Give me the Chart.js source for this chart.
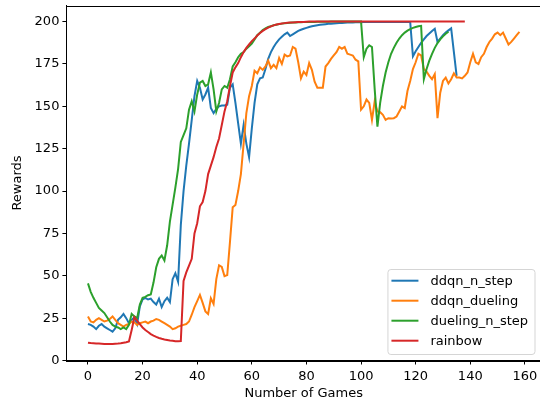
<!DOCTYPE html>
<html>
<head>
<meta charset="utf-8">
<script src="https://cdn.jsdelivr.net/npm/chart.js@4.4.1/dist/chart.umd.min.js"></script>
<style>
  html, body { margin: 0; padding: 0; background: #fff; overflow: hidden; }
  #wrap { width: 540px; height: 402px; overflow: hidden; }
  canvas { display: block; }
</style>
</head>
<body>
<div id="wrap"><canvas id="chart" width="560" height="402"></canvas></div>
<script>
// DATA (one value per game)
const seriesNames = ['ddqn_n_step', 'ddqn_dueling', 'dueling_n_step', 'rainbow'];
const colors = ['#1f77b4', '#ff7f0e', '#2ca02c', '#d62728'];

const ddqnNStep = [
  21.5, 21, 20, 18.5, 20.5, 21.5, 20, 19, 18, 17,
  19, 24, 25.5, 27.5, 25, 22, 24, 25.5, 21.5, 32,
  36, 37, 36, 36.5, 34.5, 33, 36.5, 31.5, 35, 37,
  34.5, 48, 51.5, 46.5, 80, 100, 115, 128, 142, 156,
  165, 161, 154, 157, 161, 149, 146, 148.5, 150, 150.5,
  150.5, 151, 161, 163, 152, 140, 128, 139, 128, 120,
  137, 152, 163, 166.5, 167, 172, 178, 182, 185, 187.5,
  189.5, 191, 192.5, 193.5, 191.5, 192.5, 193.5, 194.5, 195.2, 195.8,
  196.3, 196.8, 197.2, 197.6, 197.9, 198.1, 198.3, 198.5, 198.7, 198.8,
  198.9, 199, 199.1, 199.2, 199.3, 199.4, 199.5, 199.5, 199.6, 199.6,
  199.6, 199.7, 199.7, 199.7, 199.7, 199.8, 199.8, 199.8, 199.8, 199.8,
  199.8, 199.8, 199.8, 199.8, 199.8, 199.8, 199.8, 199.8, 199.8, 179.5,
  182.5, 185, 187.5, 189.5, 191.5, 193, 194.5, 195.8, 188, 190,
  192, 193.5, 194.8, 196, 182, 168
];

const ddqnDueling = [
  26, 23, 22.5, 24, 25, 24, 23, 23.5, 24.5, 26,
  24, 22, 21, 20, 21, 21.5, 23, 22.5, 21, 22,
  22.5, 23, 22, 23, 23.5, 24.5, 24, 23, 22, 21,
  20, 18.5, 19, 20, 20.5, 21, 21.5, 23, 27, 31.5,
  35, 38.7, 34, 29, 27.5, 36.7, 33.4, 48, 56.2, 55.2,
  49.8, 50.4, 70, 90.4, 91.8, 100, 110, 128, 146, 156,
  162, 171, 169.5, 173, 171.5, 173.5, 177, 172.5, 174.5, 172.5,
  178.5, 175, 180.5, 179.5, 180, 185, 184, 176, 166.5, 170.5,
  168.5, 175.5, 171.5, 164.5, 161, 161, 161, 173.5, 175.5, 178,
  180, 182, 185, 184, 185, 181, 180.5, 180, 177.5, 176.5,
  148, 150, 154, 152, 142, 153, 147, 146.5, 145, 142,
  143, 142.8, 143, 144, 147, 150, 149, 159, 165, 172,
  176, 181, 180, 172, 170.5, 168, 166, 169, 143, 158,
  165, 167, 163.5, 166, 169.5, 167, 167, 166.5, 168, 170,
  176, 181, 176, 175, 179, 181, 185, 188, 190, 192.5,
  193.5, 192, 193.5, 190, 186.5, 188, 190, 192, 194
];

const duelingNStep = [
  45.5, 40.5, 37, 34, 31, 29.5, 28, 25.5, 23, 21,
  20, 19.5, 18.5, 19.5, 18.5, 21, 27.5, 26, 25, 33,
  37, 37.5, 38.5, 39, 46, 55, 60, 62, 59, 68,
  82, 92, 102, 113, 129, 133, 137, 148, 153, 147,
  157, 164, 165, 162, 163, 170, 160, 147, 152, 160,
  162, 161, 166, 173.5, 176, 179, 181, 182, 184, 185.5,
  187, 189.5, 192, 193.5, 195, 196, 196.8, 197.3, 197.8, 198.2,
  198.5, 198.8, 199, 199.2, 199.3, 199.4, 199.5, 199.6, 199.6, 199.7,
  199.7, 199.8, 199.8, 199.8, 199.9, 199.9, 199.9, 199.9, 199.9, 200,
  200, 200, 200, 200, 200, 200, 200, 200, 200, 200,
  200, 179, 184, 186, 185, 160, 138, 152, 162, 170,
  176, 181, 184.5, 187.5, 190, 192, 193.5, 194.7, 195.6, 196.3,
  196.8, 197.2, 197.5, 166, 172, 177, 181, 184.5, 187.3, 189.5,
  191.3, 192.8, 194
];

const rainbow = [
  10.5, 10.3, 10.2, 10.1, 10, 9.9, 9.8, 9.8, 9.8, 9.8,
  9.9, 10, 10.2, 10.5, 10.8, 11.2, 18, 25.5, 23.5, 21.5,
  19.5, 18, 16.8, 15.6, 14.7, 13.9, 13.3, 12.8, 12.4, 12.1,
  11.8, 11.6, 11.4, 11.3, 11.5, 47, 52, 56, 60, 75,
  81, 91, 93.5, 100, 110, 115, 120, 126, 131, 139,
  147, 153, 162, 170, 173, 175.5, 179, 182, 184.5, 186.5,
  188.5, 190, 191.8, 193.3, 194.5, 195.5, 196.5, 197.2, 197.8, 198.3,
  198.6, 198.9, 199.1, 199.3, 199.4, 199.5, 199.6, 199.7, 199.8, 199.8,
  199.9, 200, 200, 200, 200, 200, 200, 200, 200, 200,
  200, 200, 200, 200, 200, 200, 200, 200, 200, 200,
  200, 200, 200, 200, 200, 200, 200, 200, 200, 200,
  200, 200, 200, 200, 200, 200, 200, 200, 200, 200,
  200, 200, 200, 200, 200, 200, 200, 200, 200, 200,
  200, 200, 200, 200, 200, 200, 200, 200, 200
];

const xTicks = [0, 20, 40, 60, 80, 100, 120, 140, 160];
const yTicks = [0, 25, 50, 75, 100, 125, 150, 175, 200];
const xRange = [-7.9, 165.9];
const yRange = [0, 209.5];

const FONT = 'DejaVu Sans';
const toPoints = vals => vals.map((v, i) => ({ x: i, y: v }));
const allSeries = [ddqnNStep, ddqnDueling, duelingNStep, rainbow];

// matplotlib style box + legend in lower right
const frameAndLegend = {
  id: 'frameAndLegend',
  afterDatasetsDraw(chart) {
    const { ctx, chartArea: a } = chart;
    ctx.save();
    ctx.strokeStyle = '#000';
    ctx.lineWidth = 1;
    ctx.strokeRect(Math.round(a.left) + 0.5, Math.round(a.top) + 0.5,
      Math.round(a.right - a.left), Math.round(a.bottom - a.top));

    ctx.font = '13px "' + FONT + '"';
    const textW = Math.max(...seriesNames.map(n => ctx.measureText(n).width));
    const w = 43 + textW + 6.5;
    const h = 85;
    const right = a.right - 6.5;
    const bottom = a.bottom - 6.5;
    const left = right - w;
    const top = bottom - h;

    ctx.beginPath();
    ctx.roundRect(left + 0.5, top + 0.5, w, h, 3);
    ctx.fillStyle = 'rgba(255,255,255,0.8)';
    ctx.fill();
    ctx.strokeStyle = '#d5d5d5';
    ctx.stroke();

    ctx.textBaseline = 'middle';
    ctx.textAlign = 'left';
    seriesNames.forEach((name, i) => {
      const y = top + 11.7 + i * 20;
      ctx.beginPath();
      ctx.moveTo(left + 4, y);
      ctx.lineTo(left + 31, y);
      ctx.strokeStyle = colors[i];
      ctx.lineWidth = 2;
      ctx.stroke();
      ctx.fillStyle = '#000';
      ctx.fillText(name, left + 43, y + 1);
    });
    ctx.restore();
  }
};

new Chart(document.getElementById('chart'), {
  type: 'line',
  data: {
    datasets: allSeries.map((vals, i) => ({
      label: seriesNames[i],
      data: toPoints(vals),
      borderColor: colors[i],
      backgroundColor: colors[i],
      borderWidth: 2,
      pointRadius: 0,
      tension: 0,
      fill: false,
      order: allSeries.length - i
    }))
  },
  options: {
    responsive: false,
    animation: false,
    devicePixelRatio: 1,
    layout: { padding: { left: 0, right: 19, top: 5.5, bottom: 0 } },
    plugins: { legend: { display: false }, tooltip: { enabled: false } },
    scales: {
      x: {
        type: 'linear',
        min: xRange[0],
        max: xRange[1],
        afterBuildTicks: s => { s.ticks = xTicks.map(v => ({ value: v })); },
        afterFit: s => { s.height = 41.5; s.paddingLeft = 0; s.paddingRight = 0; },
        grid: { display: true, drawOnChartArea: false, drawTicks: true, tickLength: 4, color: '#000' },
        border: { display: true, color: '#000', width: 1 },
        ticks: { autoSkip: false, maxRotation: 0, padding: 4, color: '#000', font: { family: FONT, size: 13 } },
        title: { display: true, text: 'Number of Games', color: '#000', padding: { top: 0, bottom: 1 }, font: { family: FONT, size: 13 } }
      },
      y: {
        type: 'linear',
        min: yRange[0],
        max: yRange[1],
        afterBuildTicks: s => { s.ticks = yTicks.map(v => ({ value: v })); },
        afterFit: s => { s.width = 66.4; s.paddingTop = 0; s.paddingBottom = 0; },
        grid: { display: true, drawOnChartArea: false, drawTicks: true, tickLength: 4, color: '#000' },
        border: { display: true, color: '#000', width: 1 },
        ticks: { padding: 3, color: '#000', font: { family: FONT, size: 13 } },
        title: { display: true, text: 'Rewards', color: '#000', padding: { top: 10, bottom: 0 }, font: { family: FONT, size: 13 } }
      }
    }
  },
  plugins: [frameAndLegend]
});
</script>
</body>
</html>
